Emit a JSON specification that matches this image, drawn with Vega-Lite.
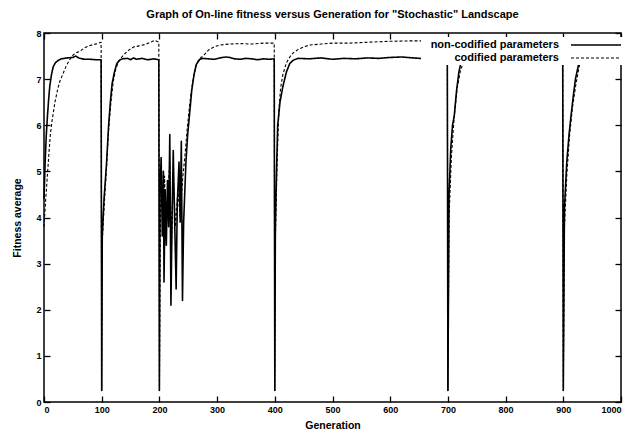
{
  "$schema": "https://vega.github.io/schema/vega-lite/v6.json",
  "width": 577,
  "height": 369,
  "autosize": {"type": "none"},
  "padding": {"left": 44, "top": 33, "right": 9, "bottom": 39},
  "background": "white",
  "title": {"text": "Graph of On-line fitness versus Generation for \"Stochastic\" Landscape", "font": "Liberation Sans", "fontSize": 11, "fontWeight": "bold", "color": "black", "offset": 9},
  "config": {
    "view": {"stroke": "black", "strokeWidth": 1.5},
    "axis": {"domain": false, "grid": false, "ticks": true, "tickOpacity": 1, "tickColor": "black", "tickWidth": 1.3, "tickSize": 6, "offset": -6, "labelFont": "Liberation Sans", "labelFontWeight": "bold", "labelFontSize": 9, "labelColor": "black", "titleFont": "Liberation Sans", "titleFontWeight": "bold", "titleFontSize": 10.5, "titleColor": "black"}
  },
  "datasets": {
    "runs": [
      {"g":0,"v":4.4,"s":"non-codified parameters"},{"g":2,"v":5.2,"s":"non-codified parameters"},{"g":4,"v":5.8,"s":"non-codified parameters"},{"g":6,"v":6.2,"s":"non-codified parameters"},{"g":8,"v":6.55,"s":"non-codified parameters"},{"g":10,"v":6.85,"s":"non-codified parameters"},{"g":13,"v":7.1,"s":"non-codified parameters"},{"g":16,"v":7.27,"s":"non-codified parameters"},{"g":20,"v":7.36,"s":"non-codified parameters"},{"g":25,"v":7.41,"s":"non-codified parameters"},{"g":30,"v":7.44,"s":"non-codified parameters"},{"g":40,"v":7.46,"s":"non-codified parameters"},{"g":50,"v":7.47,"s":"non-codified parameters"},{"g":55,"v":7.5,"s":"non-codified parameters"},{"g":60,"v":7.46,"s":"non-codified parameters"},{"g":70,"v":7.43,"s":"non-codified parameters"},{"g":80,"v":7.43,"s":"non-codified parameters"},{"g":90,"v":7.42,"s":"non-codified parameters"},{"g":99,"v":7.42,"s":"non-codified parameters"},
      {"g":100,"v":0.25,"s":"non-codified parameters"},{"g":101,"v":3.6,"s":"non-codified parameters"},{"g":104,"v":4.4,"s":"non-codified parameters"},{"g":108,"v":5.1,"s":"non-codified parameters"},{"g":112,"v":6.0,"s":"non-codified parameters"},{"g":115,"v":6.5,"s":"non-codified parameters"},{"g":118,"v":6.9,"s":"non-codified parameters"},{"g":122,"v":7.15,"s":"non-codified parameters"},{"g":126,"v":7.33,"s":"non-codified parameters"},{"g":130,"v":7.4,"s":"non-codified parameters"},{"g":135,"v":7.44,"s":"non-codified parameters"},{"g":145,"v":7.45,"s":"non-codified parameters"},{"g":150,"v":7.42,"s":"non-codified parameters"},{"g":155,"v":7.46,"s":"non-codified parameters"},{"g":160,"v":7.43,"s":"non-codified parameters"},{"g":170,"v":7.45,"s":"non-codified parameters"},{"g":180,"v":7.42,"s":"non-codified parameters"},{"g":190,"v":7.44,"s":"non-codified parameters"},{"g":199,"v":7.42,"s":"non-codified parameters"},
      {"g":200,"v":0.25,"s":"non-codified parameters"},{"g":201,"v":4.5,"s":"non-codified parameters"},{"g":203,"v":5.3,"s":"non-codified parameters"},{"g":205,"v":3.6,"s":"non-codified parameters"},{"g":207,"v":5.0,"s":"non-codified parameters"},{"g":208,"v":2.6,"s":"non-codified parameters"},{"g":210,"v":4.6,"s":"non-codified parameters"},{"g":212,"v":3.4,"s":"non-codified parameters"},{"g":214,"v":4.8,"s":"non-codified parameters"},{"g":216,"v":3.8,"s":"non-codified parameters"},{"g":218,"v":5.8,"s":"non-codified parameters"},{"g":220,"v":2.1,"s":"non-codified parameters"},{"g":222,"v":4.0,"s":"non-codified parameters"},{"g":224,"v":5.45,"s":"non-codified parameters"},{"g":226,"v":4.2,"s":"non-codified parameters"},{"g":229,"v":2.45,"s":"non-codified parameters"},{"g":231,"v":4.3,"s":"non-codified parameters"},{"g":234,"v":5.2,"s":"non-codified parameters"},{"g":236,"v":3.9,"s":"non-codified parameters"},{"g":238,"v":5.65,"s":"non-codified parameters"},{"g":240,"v":2.2,"s":"non-codified parameters"},{"g":242,"v":3.9,"s":"non-codified parameters"},{"g":246,"v":5.2,"s":"non-codified parameters"},{"g":249,"v":5.8,"s":"non-codified parameters"},{"g":252,"v":6.2,"s":"non-codified parameters"},{"g":256,"v":6.75,"s":"non-codified parameters"},{"g":260,"v":7.1,"s":"non-codified parameters"},{"g":264,"v":7.32,"s":"non-codified parameters"},{"g":270,"v":7.43,"s":"non-codified parameters"},{"g":275,"v":7.45,"s":"non-codified parameters"},{"g":285,"v":7.44,"s":"non-codified parameters"},{"g":295,"v":7.43,"s":"non-codified parameters"},{"g":305,"v":7.46,"s":"non-codified parameters"},{"g":315,"v":7.48,"s":"non-codified parameters"},{"g":322,"v":7.47,"s":"non-codified parameters"},{"g":330,"v":7.44,"s":"non-codified parameters"},{"g":340,"v":7.43,"s":"non-codified parameters"},{"g":350,"v":7.45,"s":"non-codified parameters"},{"g":360,"v":7.44,"s":"non-codified parameters"},{"g":370,"v":7.42,"s":"non-codified parameters"},{"g":380,"v":7.44,"s":"non-codified parameters"},{"g":390,"v":7.43,"s":"non-codified parameters"},{"g":399,"v":7.44,"s":"non-codified parameters"},
      {"g":400,"v":0.25,"s":"non-codified parameters"},{"g":401,"v":3.8,"s":"non-codified parameters"},{"g":403,"v":5.0,"s":"non-codified parameters"},{"g":405,"v":6.0,"s":"non-codified parameters"},{"g":409,"v":6.5,"s":"non-codified parameters"},{"g":414,"v":6.84,"s":"non-codified parameters"},{"g":420,"v":7.15,"s":"non-codified parameters"},{"g":426,"v":7.34,"s":"non-codified parameters"},{"g":432,"v":7.41,"s":"non-codified parameters"},{"g":440,"v":7.45,"s":"non-codified parameters"},{"g":460,"v":7.44,"s":"non-codified parameters"},{"g":480,"v":7.46,"s":"non-codified parameters"},{"g":500,"v":7.43,"s":"non-codified parameters"},{"g":520,"v":7.45,"s":"non-codified parameters"},{"g":540,"v":7.44,"s":"non-codified parameters"},{"g":560,"v":7.46,"s":"non-codified parameters"},{"g":580,"v":7.45,"s":"non-codified parameters"},{"g":600,"v":7.47,"s":"non-codified parameters"},{"g":620,"v":7.48,"s":"non-codified parameters"},{"g":640,"v":7.46,"s":"non-codified parameters"},{"g":660,"v":7.44,"s":"non-codified parameters"},{"g":675,"v":7.4,"s":"non-codified parameters"},{"g":690,"v":7.41,"s":"non-codified parameters"},{"g":699,"v":7.44,"s":"non-codified parameters"},
      {"g":700,"v":0.25,"s":"non-codified parameters"},{"g":702,"v":4.5,"s":"non-codified parameters"},{"g":705,"v":5.5,"s":"non-codified parameters"},{"g":708,"v":6.0,"s":"non-codified parameters"},{"g":711,"v":6.2,"s":"non-codified parameters"},{"g":715,"v":6.75,"s":"non-codified parameters"},{"g":719,"v":7.15,"s":"non-codified parameters"},{"g":723,"v":7.38,"s":"non-codified parameters"},{"g":730,"v":7.44,"s":"non-codified parameters"},{"g":760,"v":7.45,"s":"non-codified parameters"},{"g":800,"v":7.44,"s":"non-codified parameters"},{"g":850,"v":7.45,"s":"non-codified parameters"},{"g":899,"v":7.44,"s":"non-codified parameters"},
      {"g":900,"v":0.25,"s":"non-codified parameters"},{"g":902,"v":4.2,"s":"non-codified parameters"},{"g":906,"v":5.2,"s":"non-codified parameters"},{"g":910,"v":5.8,"s":"non-codified parameters"},{"g":913,"v":6.16,"s":"non-codified parameters"},{"g":917,"v":6.6,"s":"non-codified parameters"},{"g":921,"v":7.0,"s":"non-codified parameters"},{"g":927,"v":7.35,"s":"non-codified parameters"},{"g":935,"v":7.43,"s":"non-codified parameters"},{"g":950,"v":7.45,"s":"non-codified parameters"},{"g":970,"v":7.44,"s":"non-codified parameters"},{"g":1000,"v":7.45,"s":"non-codified parameters"},
      {"g":0,"v":3.8,"s":"codified parameters"},{"g":3,"v":4.4,"s":"codified parameters"},{"g":5,"v":4.75,"s":"codified parameters"},{"g":8,"v":5.3,"s":"codified parameters"},{"g":11,"v":5.8,"s":"codified parameters"},{"g":14,"v":6.1,"s":"codified parameters"},{"g":19,"v":6.5,"s":"codified parameters"},{"g":24,"v":6.8,"s":"codified parameters"},{"g":28,"v":6.97,"s":"codified parameters"},{"g":34,"v":7.15,"s":"codified parameters"},{"g":39,"v":7.3,"s":"codified parameters"},{"g":45,"v":7.43,"s":"codified parameters"},{"g":51,"v":7.53,"s":"codified parameters"},{"g":57,"v":7.58,"s":"codified parameters"},{"g":62,"v":7.6,"s":"codified parameters"},{"g":68,"v":7.66,"s":"codified parameters"},{"g":74,"v":7.7,"s":"codified parameters"},{"g":80,"v":7.73,"s":"codified parameters"},{"g":86,"v":7.75,"s":"codified parameters"},{"g":93,"v":7.77,"s":"codified parameters"},{"g":99,"v":7.8,"s":"codified parameters"},
      {"g":100,"v":0.25,"s":"codified parameters"},{"g":101,"v":3.5,"s":"codified parameters"},{"g":104,"v":4.2,"s":"codified parameters"},{"g":108,"v":5.0,"s":"codified parameters"},{"g":112,"v":5.9,"s":"codified parameters"},{"g":116,"v":6.5,"s":"codified parameters"},{"g":120,"v":6.95,"s":"codified parameters"},{"g":124,"v":7.2,"s":"codified parameters"},{"g":128,"v":7.35,"s":"codified parameters"},{"g":133,"v":7.45,"s":"codified parameters"},{"g":140,"v":7.55,"s":"codified parameters"},{"g":148,"v":7.64,"s":"codified parameters"},{"g":156,"v":7.7,"s":"codified parameters"},{"g":165,"v":7.72,"s":"codified parameters"},{"g":175,"v":7.75,"s":"codified parameters"},{"g":185,"v":7.8,"s":"codified parameters"},{"g":192,"v":7.84,"s":"codified parameters"},{"g":199,"v":7.8,"s":"codified parameters"},
      {"g":200,"v":0.25,"s":"codified parameters"},{"g":202,"v":4.2,"s":"codified parameters"},{"g":204,"v":5.0,"s":"codified parameters"},{"g":206,"v":3.8,"s":"codified parameters"},{"g":209,"v":4.9,"s":"codified parameters"},{"g":211,"v":3.6,"s":"codified parameters"},{"g":214,"v":4.4,"s":"codified parameters"},{"g":218,"v":5.2,"s":"codified parameters"},{"g":221,"v":3.4,"s":"codified parameters"},{"g":224,"v":4.9,"s":"codified parameters"},{"g":228,"v":3.8,"s":"codified parameters"},{"g":232,"v":4.6,"s":"codified parameters"},{"g":236,"v":4.0,"s":"codified parameters"},{"g":240,"v":4.8,"s":"codified parameters"},{"g":244,"v":5.3,"s":"codified parameters"},{"g":248,"v":5.9,"s":"codified parameters"},{"g":252,"v":6.4,"s":"codified parameters"},{"g":256,"v":6.8,"s":"codified parameters"},{"g":260,"v":7.1,"s":"codified parameters"},{"g":265,"v":7.35,"s":"codified parameters"},{"g":270,"v":7.45,"s":"codified parameters"},{"g":277,"v":7.52,"s":"codified parameters"},{"g":285,"v":7.63,"s":"codified parameters"},{"g":295,"v":7.7,"s":"codified parameters"},{"g":305,"v":7.74,"s":"codified parameters"},{"g":320,"v":7.76,"s":"codified parameters"},{"g":340,"v":7.77,"s":"codified parameters"},{"g":360,"v":7.76,"s":"codified parameters"},{"g":380,"v":7.78,"s":"codified parameters"},{"g":399,"v":7.78,"s":"codified parameters"},
      {"g":400,"v":0.25,"s":"codified parameters"},{"g":401,"v":3.5,"s":"codified parameters"},{"g":404,"v":5.2,"s":"codified parameters"},{"g":407,"v":6.3,"s":"codified parameters"},{"g":410,"v":6.8,"s":"codified parameters"},{"g":414,"v":7.1,"s":"codified parameters"},{"g":420,"v":7.35,"s":"codified parameters"},{"g":426,"v":7.48,"s":"codified parameters"},{"g":432,"v":7.57,"s":"codified parameters"},{"g":440,"v":7.64,"s":"codified parameters"},{"g":450,"v":7.7,"s":"codified parameters"},{"g":461,"v":7.74,"s":"codified parameters"},{"g":480,"v":7.76,"s":"codified parameters"},{"g":500,"v":7.78,"s":"codified parameters"},{"g":530,"v":7.78,"s":"codified parameters"},{"g":560,"v":7.8,"s":"codified parameters"},{"g":600,"v":7.82,"s":"codified parameters"},{"g":640,"v":7.83,"s":"codified parameters"},{"g":680,"v":7.83,"s":"codified parameters"},{"g":699,"v":7.83,"s":"codified parameters"},
      {"g":700,"v":0.25,"s":"codified parameters"},{"g":702,"v":4.0,"s":"codified parameters"},{"g":706,"v":5.3,"s":"codified parameters"},{"g":711,"v":6.2,"s":"codified parameters"},{"g":716,"v":6.8,"s":"codified parameters"},{"g":722,"v":7.2,"s":"codified parameters"},{"g":730,"v":7.45,"s":"codified parameters"},{"g":740,"v":7.6,"s":"codified parameters"},{"g":760,"v":7.7,"s":"codified parameters"},{"g":800,"v":7.76,"s":"codified parameters"},{"g":850,"v":7.8,"s":"codified parameters"},{"g":899,"v":7.8,"s":"codified parameters"},
      {"g":900,"v":0.25,"s":"codified parameters"},{"g":902,"v":3.8,"s":"codified parameters"},{"g":906,"v":4.9,"s":"codified parameters"},{"g":911,"v":5.8,"s":"codified parameters"},{"g":916,"v":6.4,"s":"codified parameters"},{"g":922,"v":6.9,"s":"codified parameters"},{"g":928,"v":7.3,"s":"codified parameters"},{"g":935,"v":7.55,"s":"codified parameters"},{"g":939,"v":7.67,"s":"codified parameters"},{"g":950,"v":7.74,"s":"codified parameters"},{"g":970,"v":7.78,"s":"codified parameters"},{"g":1000,"v":7.8,"s":"codified parameters"}
    ]
  },
  "data": {"name": "runs"},
  "layer": [
    {
      "mark": {"type": "line", "color": "black", "strokeJoin": "round"},
      "encoding": {
        "x": {"field": "g", "type": "quantitative", "scale": {"domain": [0, 1000], "nice": false, "zero": false},
              "axis": {"title": "Generation", "format": "d", "values": [0,100,200,300,400,500,600,700,800,900,1000], "labelPadding": 3, "titlePadding": 6}},
        "y": {"field": "v", "type": "quantitative", "scale": {"domain": [0, 8], "nice": false},
              "axis": {"title": "Fitness average", "values": [0,1,2,3,4,5,6,7,8], "labelPadding": 3, "titlePadding": 13}},
        "strokeDash": {"field": "s", "type": "nominal",
                       "scale": {"domain": ["non-codified parameters", "codified parameters"], "range": [[1, 0], [3, 2]]},
                       "legend": {"title": null, "orient": "none", "legendX": 377, "legendY": 4, "symbolType": "M-5,0H5", "symbolSize": 100, "symbolOffset": 167, "symbolStrokeWidth": 1.2, "symbolStrokeColor": "black", "labelAlign": "right", "labelOffset": -43, "labelFont": "Liberation Sans", "labelFontWeight": "bold", "labelFontSize": 11, "labelColor": "black", "labelLimit": 400, "fillColor": "white", "padding": 2, "rowPadding": 2}},
        "strokeWidth": {"field": "s", "type": "nominal", "scale": {"domain": ["non-codified parameters", "codified parameters"], "range": [1.6, 1.1]}, "legend": null}
      }
    },
    {
      "mark": {"type": "line", "opacity": 0},
      "encoding": {
        "x": {"field": "g", "type": "quantitative", "axis": {"orient": "top", "title": null, "labels": false, "values": [0,100,200,300,400,500,600,700,800,900,1000]}},
        "y": {"field": "v", "type": "quantitative", "axis": {"orient": "right", "title": null, "labels": false, "values": [0,1,2,3,4,5,6,7,8]}}
      }
    }
  ],
  "resolve": {"axis": {"x": "independent", "y": "independent"}}
}
